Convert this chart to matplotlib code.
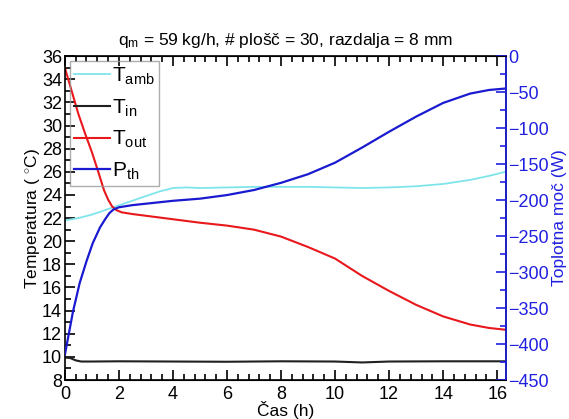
import numpy as np
import matplotlib

matplotlib.use("Agg")
import matplotlib.pyplot as plt
from matplotlib.ticker import MultipleLocator

plt.rcParams["font.family"] = ["Liberation Sans", "DejaVu Sans"]
plt.rcParams["mathtext.fontset"] = "custom"
plt.rcParams["mathtext.rm"] = "Liberation Sans"
plt.rcParams["mathtext.it"] = "Liberation Sans"

# --- podatki (odcitani s slike) ---
t_out = [0, 0.25, 0.5, 0.75, 1.0, 1.25, 1.45, 1.6, 1.75, 1.9, 2.1, 2.5, 3, 4,
         5, 6, 7, 8, 9, 10, 11, 12, 13, 14, 15, 15.7, 16.3]
T_out = [35.0, 33.0, 31.0, 29.3, 27.7, 25.9, 24.4, 23.6, 23.0, 22.7, 22.5,
         22.35, 22.2, 21.9, 21.6, 21.35, 21.0, 20.4, 19.5, 18.5, 17.0, 15.7,
         14.5, 13.5, 12.8, 12.5, 12.35]

t_amb = [0, 0.5, 1, 1.5, 2, 2.5, 3, 3.5, 4, 4.5, 5, 6, 7, 8, 9, 10, 11, 12,
         13, 14, 15, 15.7, 16.3]
T_amb = [21.8, 22.0, 22.3, 22.7, 23.1, 23.5, 23.9, 24.3, 24.6, 24.65, 24.6,
         24.65, 24.7, 24.7, 24.7, 24.65, 24.6, 24.65, 24.75, 24.95, 25.3,
         25.65, 26.0]

t_in = [0, 0.2, 0.4, 0.6, 1, 2, 4, 6, 8, 10, 11, 12, 14, 16.3]
T_in = [9.95, 9.9, 9.7, 9.6, 9.6, 9.62, 9.6, 9.58, 9.62, 9.6, 9.52, 9.6,
        9.62, 9.62]

t_p = [0, 0.15, 0.3, 0.55, 0.8, 1.03, 1.3, 1.5, 1.65, 1.8, 2, 2.5, 3, 3.5, 4,
       5, 6, 7, 8, 9, 10, 11, 12, 13, 14, 15, 15.7, 16.3]
P_th = [-415, -385, -355, -315, -285, -260, -238, -226, -218, -213, -210,
        -207, -205, -203, -201, -198, -193, -186, -176, -164, -148, -127,
        -105, -84, -65, -52, -47, -45]

modra = "#2020e0"

fig = plt.figure(figsize=(5.69, 4.19), dpi=100)
ax = fig.add_axes([0.114, 0.093, 0.775, 0.773])
ax2 = ax.twinx()

l1, = ax.plot(t_amb, T_amb, color="#7fe5ea", lw=1.3, label=r"T$_{amb}$")
l2, = ax.plot(t_in, T_in, color="#202020", lw=1.5, label=r"T$_{in}$")
l3, = ax.plot(t_out, T_out, color="#e8181c", lw=1.5, label=r"T$_{out}$")
l4, = ax2.plot(t_p, P_th, color="#1a1ad0", lw=1.6, label=r"P$_{th}$")

ax.set_xlim(0, 16.32)
ax.set_ylim(8, 36)
ax2.set_ylim(-450, 0)

ax.xaxis.set_major_locator(MultipleLocator(2))
ax.xaxis.set_minor_locator(MultipleLocator(0.4))
ax.yaxis.set_major_locator(MultipleLocator(2))
ax.yaxis.set_minor_locator(MultipleLocator(1))
ax2.yaxis.set_major_locator(MultipleLocator(50))
ax2.yaxis.set_minor_locator(MultipleLocator(25))

ax.tick_params(which="both", direction="in", top=True, labelsize=13,
               width=1.2)
ax.tick_params(axis="y", pad=2)
ax.tick_params(axis="x", pad=4)
ax.tick_params(which="major", length=7)
ax.tick_params(which="minor", length=4)
ax2.tick_params(which="both", direction="in", colors=modra, labelsize=13,
                width=1.2, pad=2)
ax2.tick_params(which="major", length=7)
ax2.tick_params(which="minor", length=4)
for s in ax.spines.values():
    s.set_linewidth(1.2)
ax2.spines["right"].set_color(modra)
ax2.spines["right"].set_linewidth(1.2)
ax2.spines["left"].set_visible(False)

ax.set_xlabel("Čas (h)", fontsize=12.5, labelpad=-1)
ax.set_ylabel(r"Temperatura ( $^{\circ}$C)", fontsize=12.5, labelpad=0)
ax2.set_ylabel("Toplotna moč (W)", fontsize=12.5, color=modra, labelpad=2)
ax.set_title(r"q$_{m}$ = 59 kg/h, # plošč = 30, razdalja = 8 mm",
             fontsize=12.5, pad=8)

leg = ax2.legend([l1, l2, l3, l4], [l.get_label() for l in (l1, l2, l3, l4)],
                 loc="upper left", fontsize=15, frameon=True,
                 fancybox=False, handlelength=1.7, handletextpad=0.1,
                 labelspacing=0.5, borderaxespad=0.25, borderpad=0.2)
leg.get_frame().set_facecolor("none")
leg.get_frame().set_edgecolor("#999999")
leg.get_frame().set_linewidth(1.0)

fig.savefig("out.png", dpi=100)
